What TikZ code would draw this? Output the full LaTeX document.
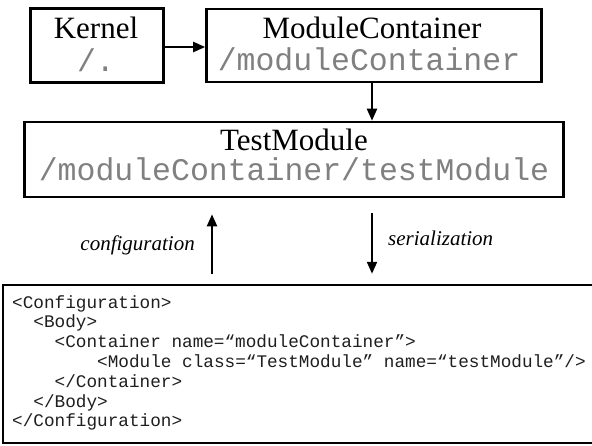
\documentclass[tikz,border=0pt]{standalone}
\usepackage{fontspec}
\setmainfont{Liberation Serif}
\setmonofont{Liberation Mono}
\usetikzlibrary{arrows.meta}
\definecolor{pathgray}{gray}{0.5}
\definecolor{xmlgray}{gray}{0.12}
\begin{document}
\begin{tikzpicture}[x=1pt,y=-1pt,
  box/.style={draw, line width=2.6pt, inner sep=0pt},
  titletext/.style={anchor=base, inner sep=0pt, text depth=0pt, font=\fontsize{31}{31}\selectfont},
  pathtext/.style={anchor=base, inner sep=0pt, text height=22pt, text=pathgray, font=\fontsize{31.5}{31.5}\selectfont\ttfamily},
  conn/.style={line width=2.2pt, -{Triangle[length=12pt,width=10pt]}},
  lbl/.style={inner sep=0pt, font=\fontsize{21}{21}\selectfont\itshape},
  xmltext/.style={anchor=base west, inner sep=0pt, text=xmlgray, font=\fontsize{17.7}{17.7}\selectfont\ttfamily}]
\useasboundingbox (0,0) rectangle (592,445);
\fill[white] (0,0) rectangle (592,445);

% boxes
\node[box, minimum width=133pt, minimum height=74pt] (kernel) at (97,45.5) {};
\node[box, minimum width=335pt, minimum height=73pt] (mc) at (374,45.5) {};
\node[box, minimum width=539pt, minimum height=75pt] (tm) at (294,159.5) {};
\node[draw, line width=2.5pt, inner sep=0pt, minimum width=600pt, minimum height=158pt] (xml) at (303,364) {};

% box texts
\node[titletext] (kt) at (96,38) {Kernel};
\node[pathtext] (kp) at (96,71) {/.};
\node[titletext] (mt) at (372,38) {ModuleContainer};
\node[pathtext] (mp) at (369,70) {/moduleContainer};
\node[titletext] (tt) at (294,150) {TestModule};
\node[pathtext] (tp) at (294,180) {/moduleContainer/testModule};

% connectors
\draw[conn] ([yshift=-1.5pt]kernel.east) -- ([yshift=-1.5pt]mc.west);
\draw[conn] (372,0 |- mc.south) -- (372,0 |- tm.north);
\draw[conn, shorten <=15pt, shorten >=10pt] (372,0 |- tm.south) -- (372,0 |- xml.north);
\draw[conn, shorten <=10pt, shorten >=16pt] (212,0 |- xml.north) -- (212,0 |- tm.south);

% labels
\node[lbl, anchor=base east] (cl) at (195,250) {configuration};
\node[lbl, anchor=base west] (sl) at (388,245) {serialization};

% xml lines
\node[xmltext] (x1) at (12,308) {<Configuration>};
\node[xmltext] (x2) at (33.2,327.8) {<Body>};
\node[xmltext] (x3) at (54.5,347.6) {<Container name=“moduleContainer”>};
\node[xmltext] (x4) at (97,367.4) {<Module class=“TestModule” name=“testModule”/>};
\node[xmltext] (x5) at (54.5,387.2) {</Container>};
\node[xmltext] (x6) at (33.2,407) {</Body>};
\node[xmltext] (x7) at (12,426.8) {</Configuration>};
\end{tikzpicture}
\end{document}
